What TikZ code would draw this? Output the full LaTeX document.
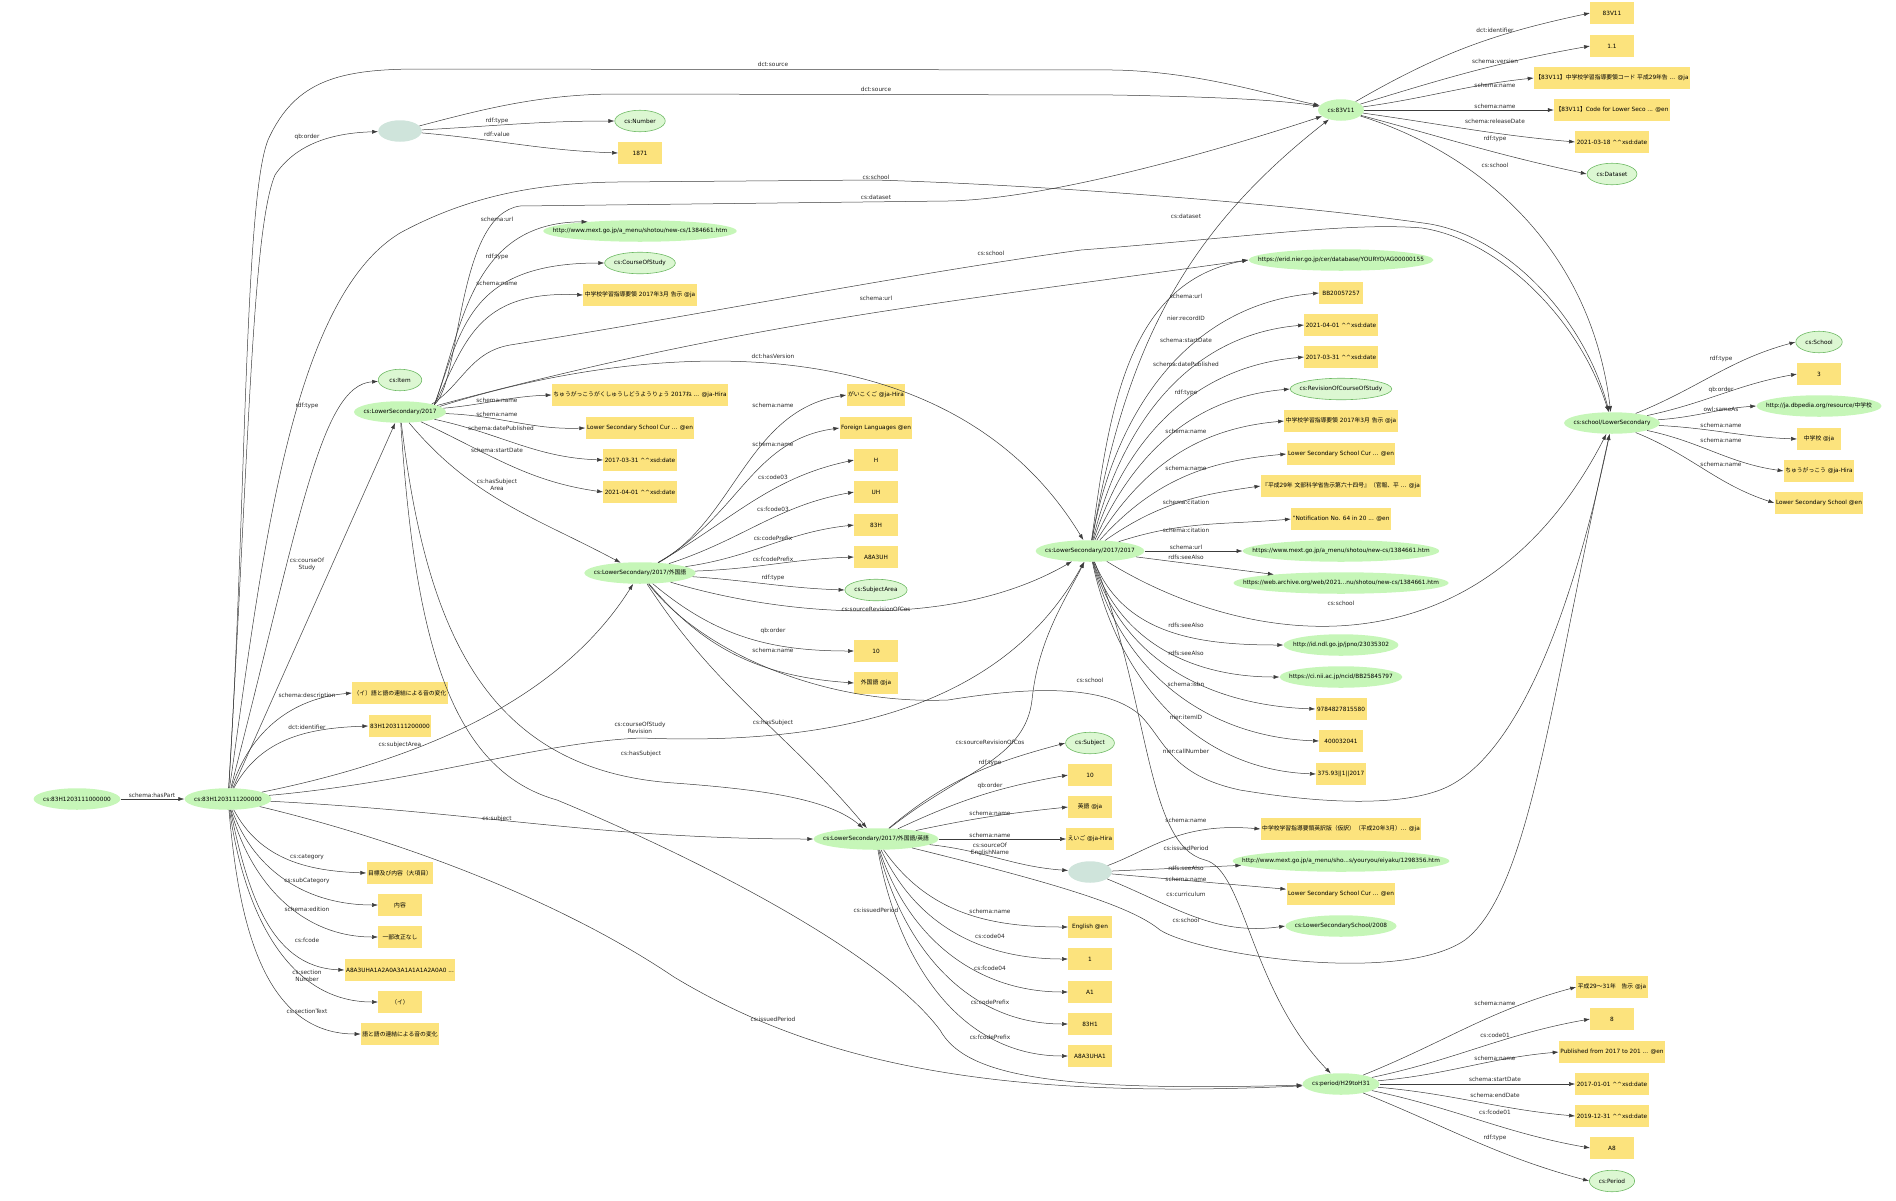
\documentclass[tikz,border=0pt]{standalone}
\usepackage{fontspec}
\setmainfont{DejaVu Sans}
\newfontfamily\jp{Noto Sans CJK JP}
\usetikzlibrary{shapes.geometric,arrows.meta}

\definecolor{resgreen}{RGB}{198,246,184}
\definecolor{clsgreen}{RGB}{220,247,210}
\definecolor{clsline}{RGB}{110,185,100}
\definecolor{lityellow}{RGB}{252,227,125}
\definecolor{blankgrey}{RGB}{207,228,219}
\definecolor{edgegrey}{RGB}{60,60,60}
\definecolor{lblgrey}{RGB}{40,40,40}

\newcommand\nodefont{\fontsize{5.8}{7.2}\selectfont}
\newcommand\ja[1]{{\jp #1}}
\newcommand\xsd{\textasciicircum\textasciicircum xsd:date}

% ellipse as wide as its text plus a margin, like dot draws it;
% the width is measured inside the node, where the font is in force
\newlength\nodew
\newcommand\fitw[1]{%
  \settowidth{\nodew}{#1}\addtolength{\nodew}{19pt}%
  \ifdim\nodew<43.5pt \setlength{\nodew}{43.5pt}\fi
  \global\nodew=\nodew
  \makebox[0pt]{#1}}
\newcommand\ellnode[4]{%
  \node[#1, minimum width=\nodew] (#2) at (#3) {\fitw{#4}};}

\tikzset{
  res/.style={ellipse, fill=resgreen, inner sep=0pt, minimum height=21.5pt, font=\nodefont},
  cls/.style={ellipse, fill=clsgreen, draw=clsline, line width=0.6pt, inner sep=0pt, minimum height=21.5pt, font=\nodefont},
  blank/.style={ellipse, fill=blankgrey, inner sep=0pt, minimum width=43.5pt, minimum height=21.5pt},
  lit/.style={rectangle, fill=lityellow, inner xsep=1.5pt, minimum width=43.5pt, minimum height=21.5pt, font=\nodefont},
  edge/.style={->, draw=edgegrey, line width=0.5pt},
  lbl/.style={font=\nodefont, text=lblgrey, inner sep=0.5pt, align=center},
}

\begin{document}
\begin{tikzpicture}[x=1pt, y=1pt, >={Latex[length=6pt,width=4pt]}]
\useasboundingbox (0,0) rectangle (1896,-1200);

% the item and its literals
\ellnode{res}{item0}{77,-799}{cs:83H1203111000000}
\ellnode{res}{item}{228,-799}{cs:83H1203111200000}
\node[lit] (desc) at (400,-693) {\ja{（イ）語と語の連結による音の変化}};
\node[lit] (ident) at (400,-726) {83H1203111200000};
\node[lit] (cat) at (400,-873) {\ja{目標及び内容（大項目）}};
\node[lit] (subcat) at (400,-905) {\ja{内容}};
\node[lit] (edition) at (400,-937) {\ja{一部改正なし}};
\node[lit] (fcode) at (400,-970) {A8A3UHA1A2A0A3A1A1A1A2A0A0 ...};
\node[lit] (secnum) at (400,-1002) {\ja{（イ）}};
\node[lit] (sectext) at (400,-1034) {\ja{語と語の連結による音の変化}};

% order number
\node[blank] (bn1) at (400,-131) {};
\ellnode{cls}{number}{640,-121}{cs:Number}
\node[lit] (v1871) at (640,-153) {1871};

% dataset
\ellnode{res}{ds}{1341,-110}{cs:83V11}
\node[lit] (dsid) at (1612,-13) {83V11};
\node[lit] (dsver) at (1612,-46) {1.1};
\node[lit] (dsnja) at (1612,-78) {\ja{【}83V11\ja{】中学校学習指導要領コード} \ja{平成}29\ja{年告} ... @ja};
\node[lit] (dsnen) at (1612,-110) {\ja{【}83V11\ja{】}Code for Lower Seco ... @en};
\node[lit] (dsdate) at (1612,-142) {2021-03-18 \xsd};
\ellnode{cls}{dataset}{1612,-174}{cs:Dataset}

% school
\ellnode{res}{school}{1612,-423}{cs:school/LowerSecondary}
\ellnode{cls}{schoolcls}{1819,-342}{cs:School}
\node[lit] (sord) at (1819,-374) {3};
\ellnode{res}{dbp}{1819,-406}{http://ja.dbpedia.org/resource/\ja{中学校}}
\node[lit] (snja) at (1819,-439) {\ja{中学校} @ja};
\node[lit] (snhira) at (1819,-471) {\ja{ちゅうがっこう} @ja-Hira};
\node[lit] (snen) at (1819,-503) {Lower Secondary School @en};

% course of study
\ellnode{res}{cos}{400,-412}{cs:LowerSecondary/2017}
\ellnode{cls}{itemcls}{400,-380}{cs:Item}
\ellnode{res}{cosurl}{640,-231}{http://www.mext.go.jp/a\_menu/shotou/new-cs/1384661.htm}
\ellnode{cls}{coscls}{640,-263}{cs:CourseOfStudy}
\node[lit] (cosnja) at (640,-295) {\ja{中学校学習指導要領} 2017\ja{年}3\ja{月} \ja{告示} @ja};
\node[lit] (coshira) at (640,-395) {\ja{ちゅうがっこうがくしゅうしどうようりょう} 2017\ja{ね} ... @ja-Hira};
\node[lit] (cosnen) at (640,-428) {Lower Secondary School Cur ... @en};
\node[lit] (cospub) at (640,-460) {2017-03-31 \xsd};
\node[lit] (cosstart) at (640,-492) {2021-04-01 \xsd};

% subject area
\ellnode{res}{area}{640,-573}{cs:LowerSecondary/2017/\ja{外国語}}
\node[lit] (ahira) at (876,-395) {\ja{がいこくご} @ja-Hira};
\node[lit] (aen) at (876,-428) {Foreign Languages @en};
\node[lit] (acode) at (876,-460) {H};
\node[lit] (afcode) at (876,-492) {UH};
\node[lit] (aprefix) at (876,-525) {83H};
\node[lit] (afprefix) at (876,-557) {A8A3UH};
\ellnode{cls}{areacls}{876,-590}{cs:SubjectArea}
\node[lit] (aord) at (876,-651) {10};
\node[lit] (anja) at (876,-683) {\ja{外国語} @ja};

% revision
\ellnode{res}{rev}{1090,-551}{cs:LowerSecondary/2017/2017}
\ellnode{res}{erid}{1341,-260}{https://erid.nier.go.jp/cer/database/YOURYO/AG00000155}
\node[lit] (recid) at (1341,-293) {BB20057257};
\node[lit] (rstart) at (1341,-325) {2021-04-01 \xsd};
\node[lit] (rpub) at (1341,-357) {2017-03-31 \xsd};
\ellnode{cls}{revcls}{1341,-389}{cs:RevisionOfCourseOfStudy}
\node[lit] (rnja) at (1341,-421) {\ja{中学校学習指導要領} 2017\ja{年}3\ja{月} \ja{告示} @ja};
\node[lit] (rnen) at (1341,-454) {Lower Secondary School Cur ... @en};
\node[lit] (rcitja) at (1341,-486) {\ja{『平成}29\ja{年} \ja{文部科学省告示第六十四号』（官報、平} ... @ja};
\node[lit] (rciten) at (1341,-519) {"Notification No. 64 in 20 ... @en};
\ellnode{res}{rurl}{1341,-551}{https://www.mext.go.jp/a\_menu/shotou/new-cs/1384661.htm}
\ellnode{res}{rarch}{1341,-583}{https://web.archive.org/web/2021...nu/shotou/new-cs/1384661.htm}
\ellnode{res}{rndl}{1341,-645}{http://id.ndl.go.jp/jpno/23035302}
\ellnode{res}{rnii}{1341,-677}{https://ci.nii.ac.jp/ncid/BB25845797}
\node[lit] (risbn) at (1341,-709) {9784827815580};
\node[lit] (ritem) at (1341,-741) {400032041};
\node[lit] (rcall) at (1341,-774) {375.93||1||2017};

% subject
\ellnode{res}{subj}{876,-839}{cs:LowerSecondary/2017/\ja{外国語}/\ja{英語}}
\ellnode{cls}{subjcls}{1090,-743}{cs:Subject}
\node[lit] (subjord) at (1090,-775) {10};
\node[lit] (subjnja) at (1090,-807) {\ja{英語} @ja};
\node[lit] (subjhira) at (1090,-839) {\ja{えいご} @ja-Hira};
\node[blank] (bn2) at (1090,-872) {};
\node[lit] (subjnen) at (1090,-927) {English @en};
\node[lit] (subjcode) at (1090,-959) {1};
\node[lit] (subjfcode) at (1090,-992) {A1};
\node[lit] (subjprefix) at (1090,-1024) {83H1};
\node[lit] (subjfprefix) at (1090,-1056) {A8A3UHA1};
\node[lit] (ejname) at (1341,-829) {\ja{中学校学習指導要領英訳版（仮訳）（平成}20\ja{年}3\ja{月）}... @ja};
\ellnode{res}{eurl}{1341,-861}{http://www.mext.go.jp/a\_menu/sho...s/youryou/eiyaku/1298356.htm}
\node[lit] (ennen) at (1341,-894) {Lower Secondary School Cur ... @en};
\ellnode{res}{cur2008}{1341,-926}{cs:LowerSecondarySchool/2008}

% period
\ellnode{res}{period}{1341,-1084}{cs:period/H29toH31}
\node[lit] (pnja) at (1612,-987) {\ja{平成}29\ja{～}31\ja{年　告示} @ja};
\node[lit] (pcode) at (1612,-1019) {8};
\node[lit] (pnen) at (1612,-1052) {Published from 2017 to 201 ... @en};
\node[lit] (pstart) at (1612,-1084) {2017-01-01 \xsd};
\node[lit] (pend) at (1612,-1116) {2019-12-31 \xsd};
\node[lit] (pfcode) at (1612,-1148) {A8};
\ellnode{cls}{periodcls}{1612,-1181}{cs:Period}

% edges of the item
\draw[edge] (item0) -- (item) node[lbl] at (152,-795) {schema:hasPart};
\draw[edge] (item) .. controls (246,-520) and (244,-200) .. (268,-140)
  .. controls (295,-80) and (340,-69) .. (420,-69) -- (1115,-70)
  .. controls (1200,-72) and (1270,-95) .. (ds) node[lbl] at (773,-64) {dct:source};
\draw[edge] (item) .. controls (249,-450) and (252,-230) .. (275,-175)
  .. controls (295,-145) and (330,-133) .. (bn1) node[lbl] at (307,-137) {qb:order};
\draw[edge] (item) .. controls (300,-520) and (320,-385) .. (itemcls) node[lbl] at (307,-406) {rdf:type};
\draw[edge] (item) -- (cos) node[lbl] at (307,-564) {cs:courseOf\\Study};
\draw[edge] (item) .. controls (262,-560) and (290,-300) .. (400,-233)
  .. controls (470,-195) and (540,-183) .. (617,-182) -- (874,-180)
  .. controls (1050,-185) and (1300,-205) .. (1430,-224)
  .. controls (1510,-238) and (1585,-320) .. (school) node[lbl] at (876,-177) {cs:school};
\draw[edge] (item) .. controls (420,-760) and (560,-700) .. (area) node[lbl] at (400,-745) {cs:subjectArea};
\draw[edge] (item) .. controls (420,-782) and (540,-742) .. (641,-738)
  .. controls (820,-745) and (1000,-715) .. (rev) node[lbl] at (640,-728) {cs:courseOfStudy\\Revision};
\draw[edge] (item) to[out=-3,in=180] (subj.west) node[lbl] at (497,-819) {cs:subject};
\draw[edge] (item) .. controls (400,-840) and (560,-900) .. (674,-977)
  .. controls (820,-1065) and (1000,-1100) .. (period) node[lbl] at (773,-1019) {cs:issuedPeriod};
\draw[edge] (item) to[out=72,in=185] (desc.west) node[lbl] at (307,-696) {schema:description};
\draw[edge] (item) to[out=62,in=182] (ident.west) node[lbl] at (307,-727) {dct:identifier};
\draw[edge] (item) to[out=-62,in=178] (cat.west) node[lbl] at (307,-857) {cs:category};
\draw[edge] (item) to[out=-70,in=180] (subcat.west) node[lbl] at (307,-881) {cs:subCategory};
\draw[edge] (item) to[out=-75,in=180] (edition.west) node[lbl] at (307,-909) {schema:edition};
\draw[edge] (item) to[out=-78,in=178] (fcode.west) node[lbl] at (307,-940) {cs:fcode};
\draw[edge] (item) to[out=-82,in=180] (secnum.west) node[lbl] at (307,-976) {cs:section\\Number};
\draw[edge] (item) to[out=-85,in=180] (sectext.west) node[lbl] at (307,-1011) {cs:sectionText};

% edges of the order number
\draw[edge] (bn1) .. controls (480,-110) and (540,-94) .. (617,-94) -- (1115,-95)
  .. controls (1220,-97) and (1280,-100) .. (ds) node[lbl] at (876,-89) {dct:source};
\draw[edge] (bn1) to[out=3,in=180] (number.west) node[lbl] at (497,-121) {rdf:type};
\draw[edge] (bn1) to[out=-5,in=178] (v1871.west) node[lbl] at (497,-134) {rdf:value};

% edges of the course of study
\draw[edge] (cos.12) .. controls (462,-380) and (456,-215) .. (520,-206) -- (948,-201)
  .. controls (1050,-199) and (1220,-150) .. (ds) node[lbl] at (876,-197) {cs:dataset};
\draw[edge] (cos.14) .. controls (462,-385) and (470,-352) .. (510,-345)
  .. controls (700,-315) and (900,-275) .. (1081,-250)
  .. controls (1250,-237) and (1350,-222) .. (1422,-228)
  .. controls (1500,-240) and (1580,-320) .. (school) node[lbl] at (991,-253) {cs:school};
\draw[edge] (cos.12) .. controls (462,-330) and (470,-222) .. (cosurl.170) node[lbl] at (497,-219) {schema:url};
\draw[edge] (cos.12) .. controls (462,-330) and (468,-263) .. (coscls.west) node[lbl] at (497,-257) {rdf:type};
\draw[edge] (cos.12) .. controls (465,-345) and (475,-290) .. (cosnja.west) node[lbl] at (497,-283) {schema:name};
\draw[edge] (cos.10) to[out=15,in=188] (erid.west) node[lbl] at (876,-298) {schema:url};
\draw[edge] (cos.8) .. controls (650,-340) and (950,-320) .. (rev) node[lbl] at (773,-356) {dct:hasVersion};
\draw[edge] (cos.5) to[out=5,in=182] (coshira.west) node[lbl] at (497,-400) {schema:name};
\draw[edge] (cos) to[out=-2,in=182] (cosnen.west) node[lbl] at (497,-414) {schema:name};
\draw[edge] (cos) to[out=-12,in=178] (cospub.west) node[lbl] at (501,-428) {schema:datePublished};
\draw[edge] (cos) to[out=-25,in=172] (cosstart.west) node[lbl] at (497,-450) {schema:startDate};
\draw[edge] (cos) to[out=-50,in=152] (area) node[lbl] at (497,-485) {cs:hasSubject\\Area};
\draw[edge] (cos) .. controls (425,-620) and (480,-770) .. (674,-783)
  .. controls (770,-790) and (830,-800) .. (subj) node[lbl] at (641,-754) {cs:hasSubject};
\draw[edge] (cos) .. controls (415,-640) and (450,-770) .. (557,-800)
  .. controls (690,-855) and (880,-950) .. (940,-1030)
  .. controls (965,-1075) and (1050,-1092) .. (period) node[lbl] at (876,-910) {cs:issuedPeriod};

% edges of the subject area
\draw[edge] (area) .. controls (735,-520) and (748,-410) .. (ahira.west) node[lbl] at (773,-405) {schema:name};
\draw[edge] (area) .. controls (740,-515) and (752,-440) .. (aen.west) node[lbl] at (773,-444) {schema:name};
\draw[edge] (area) to[out=30,in=192] (acode.west) node[lbl] at (773,-477) {cs:code03};
\draw[edge] (area) to[out=18,in=190] (afcode.west) node[lbl] at (773,-509) {cs:fcode03};
\draw[edge] (area) to[out=8,in=186] (aprefix.west) node[lbl] at (773,-538) {cs:codePrefix};
\draw[edge] (area) to[out=2,in=182] (afprefix.west) node[lbl] at (773,-559) {cs:fcodePrefix};
\draw[edge] (area) to[out=-4,in=178] (areacls.west) node[lbl] at (773,-578) {rdf:type};
\draw[edge] (area) to[out=-40,in=180] (aord.west) node[lbl] at (773,-631) {qb:order};
\draw[edge] (area) to[out=-50,in=176] (anja.west) node[lbl] at (773,-650) {schema:name};
\draw[edge] (area) .. controls (780,-615) and (950,-632) .. (rev) node[lbl] at (876,-609) {cs:sourceRevisionOfCos};
\draw[edge] (area) .. controls (700,-650) and (820,-705) .. (948,-700)
  .. controls (1010,-690) and (1100,-680) .. (1140,-715)
  .. controls (1165,-740) and (1170,-775) .. (1240,-790)
  .. controls (1330,-805) and (1400,-805) .. (1440,-790)
  .. controls (1520,-760) and (1575,-600) .. (school) node[lbl] at (1090,-680) {cs:school};
\draw[edge] (area) to[out=-57,in=130] (subj) node[lbl] at (773,-723) {cs:hasSubject};

% edges of the revision
\draw[edge] (rev) to[out=80,in=218] (ds) node[lbl] at (1186,-216) {cs:dataset};
\draw[edge] (rev) to[out=82,in=190] (erid.west) node[lbl] at (1186,-296) {schema:url};
\draw[edge] (rev) to[out=80,in=185] (recid.west) node[lbl] at (1186,-318) {nier:recordID};
\draw[edge] (rev) to[out=76,in=185] (rstart.west) node[lbl] at (1186,-340) {schema:startDate};
\draw[edge] (rev) to[out=72,in=185] (rpub.west) node[lbl] at (1186,-364) {schema:datePublished};
\draw[edge] (rev) to[out=66,in=185] (revcls.west) node[lbl] at (1186,-393) {rdf:type};
\draw[edge] (rev) to[out=58,in=185] (rnja.west) node[lbl] at (1186,-431) {schema:name};
\draw[edge] (rev) to[out=48,in=185] (rnen.west) node[lbl] at (1186,-468) {schema:name};
\draw[edge] (rev) to[out=35,in=188] (rcitja.west) node[lbl] at (1186,-502) {schema:citation};
\draw[edge] (rev) to[out=18,in=185] (rciten.west) node[lbl] at (1186,-530) {schema:citation};
\draw[edge] (rev) -- (rurl) node[lbl] at (1186,-547) {schema:url};
\draw[edge] (rev) -- (rarch) node[lbl] at (1186,-557) {rdfs:seeAlso};
\draw[edge] (rev) .. controls (1250,-650) and (1480,-680) .. (school) node[lbl] at (1341,-603) {cs:school};
\draw[edge] (rev) to[out=-68,in=180] (rndl.west) node[lbl] at (1186,-625) {rdfs:seeAlso};
\draw[edge] (rev) to[out=-72,in=180] (rnii.west) node[lbl] at (1186,-653) {rdfs:seeAlso};
\draw[edge] (rev) to[out=-74,in=178] (risbn.west) node[lbl] at (1186,-684) {schema:isbn};
\draw[edge] (rev) to[out=-76,in=178] (ritem.west) node[lbl] at (1186,-717) {nier:itemID};
\draw[edge] (rev) to[out=-78,in=178] (rcall.west) node[lbl] at (1186,-751) {nier:callNumber};
\draw[edge] (rev) .. controls (1150,-700) and (1145,-845) .. (1205,-860)
  .. controls (1245,-870) and (1250,-990) .. (period) node[lbl] at (1186,-848) {cs:issuedPeriod};

% edges of the subject
\draw[edge] (subj) .. controls (960,-772) and (1025,-760) .. (1032,-700)
  .. controls (1038,-640) and (1065,-600) .. (rev) node[lbl] at (990,-742) {cs:sourceRevisionOfCos};
\draw[edge] (subj) to[out=40,in=195] (subjcls.west) node[lbl] at (990,-763) {rdf:type};
\draw[edge] (subj) to[out=25,in=190] (subjord.west) node[lbl] at (990,-786) {qb:order};
\draw[edge] (subj) to[out=12,in=186] (subjnja.west) node[lbl] at (990,-813) {schema:name};
\draw[edge] (subj) -- (subjhira) node[lbl] at (990,-835) {schema:name};
\draw[edge] (subj) to[out=-6,in=176] (bn2) node[lbl] at (990,-849) {cs:sourceOf\\EnglishName};
\draw[edge] (subj) to[out=-55,in=180] (subjnen.west) node[lbl] at (990,-911) {schema:name};
\draw[edge] (subj) to[out=-65,in=180] (subjcode.west) node[lbl] at (990,-936) {cs:code04};
\draw[edge] (subj) to[out=-72,in=180] (subjfcode.west) node[lbl] at (990,-968) {cs:fcode04};
\draw[edge] (subj) to[out=-76,in=180] (subjprefix.west) node[lbl] at (990,-1002) {cs:codePrefix};
\draw[edge] (subj) to[out=-80,in=180] (subjfprefix.west) node[lbl] at (990,-1037) {cs:fcodePrefix};
\draw[edge] (subj) .. controls (1050,-882) and (1130,-905) .. (1160,-930)
  .. controls (1200,-955) and (1400,-985) .. (1465,-940)
  .. controls (1530,-890) and (1550,-700) .. (school) node[lbl] at (1186,-920) {cs:school};

% edges of the english name
\draw[edge] (bn2) .. controls (1150,-850) and (1180,-822) .. (ejname.west) node[lbl] at (1186,-820) {schema:name};
\draw[edge] (bn2) -- (eurl) node[lbl] at (1186,-868) {rdfs:seeAlso};
\draw[edge] (bn2) -- (ennen) node[lbl] at (1186,-879) {schema:name};
\draw[edge] (bn2) to[out=-22,in=188] (cur2008.west) node[lbl] at (1186,-894) {cs:curriculum};

% edges of the dataset
\draw[edge] (ds) to[out=30,in=192] (dsid.west) node[lbl] at (1495,-30) {dct:identifier};
\draw[edge] (ds) to[out=17,in=190] (dsver.west) node[lbl] at (1495,-61) {schema:version};
\draw[edge] (ds) to[out=8,in=186] (dsnja.west) node[lbl] at (1495,-85) {schema:name};
\draw[edge] (ds) -- (dsnen) node[lbl] at (1495,-106) {schema:name};
\draw[edge] (ds) to[out=-8,in=175] (dsdate.west) node[lbl] at (1495,-121) {schema:releaseDate};
\draw[edge] (ds) to[out=-15,in=168] (dataset.west) node[lbl] at (1495,-139) {rdf:type};
\draw[edge] (ds) .. controls (1470,-150) and (1590,-240) .. (school) node[lbl] at (1495,-165) {cs:school};

% edges of the school
\draw[edge] (school) to[out=22,in=195] (schoolcls.west) node[lbl] at (1721,-359) {rdf:type};
\draw[edge] (school) to[out=12,in=190] (sord.west) node[lbl] at (1721,-390) {qb:order};
\draw[edge] (school) to[out=4,in=184] (dbp.west) node[lbl] at (1721,-409) {owl:sameAs};
\draw[edge] (school) to[out=-3,in=178] (snja.west) node[lbl] at (1721,-425) {schema:name};
\draw[edge] (school) to[out=-12,in=172] (snhira.west) node[lbl] at (1721,-440) {schema:name};
\draw[edge] (school) to[out=-22,in=162] (snen.west) node[lbl] at (1721,-464) {schema:name};

% edges of the period
\draw[edge] (period) to[out=22,in=195] (pnja.west) node[lbl] at (1495,-1003) {schema:name};
\draw[edge] (period) to[out=12,in=190] (pcode.west) node[lbl] at (1495,-1035) {cs:code01};
\draw[edge] (period) to[out=5,in=185] (pnen.west) node[lbl] at (1495,-1058) {schema:name};
\draw[edge] (period) -- (pstart) node[lbl] at (1495,-1079) {schema:startDate};
\draw[edge] (period) to[out=-5,in=175] (pend.west) node[lbl] at (1495,-1095) {schema:endDate};
\draw[edge] (period) to[out=-12,in=170] (pfcode.west) node[lbl] at (1495,-1112) {cs:fcode01};
\draw[edge] (period) to[out=-22,in=165] (periodcls.west) node[lbl] at (1495,-1138) {rdf:type};
\end{tikzpicture}
\end{document}
